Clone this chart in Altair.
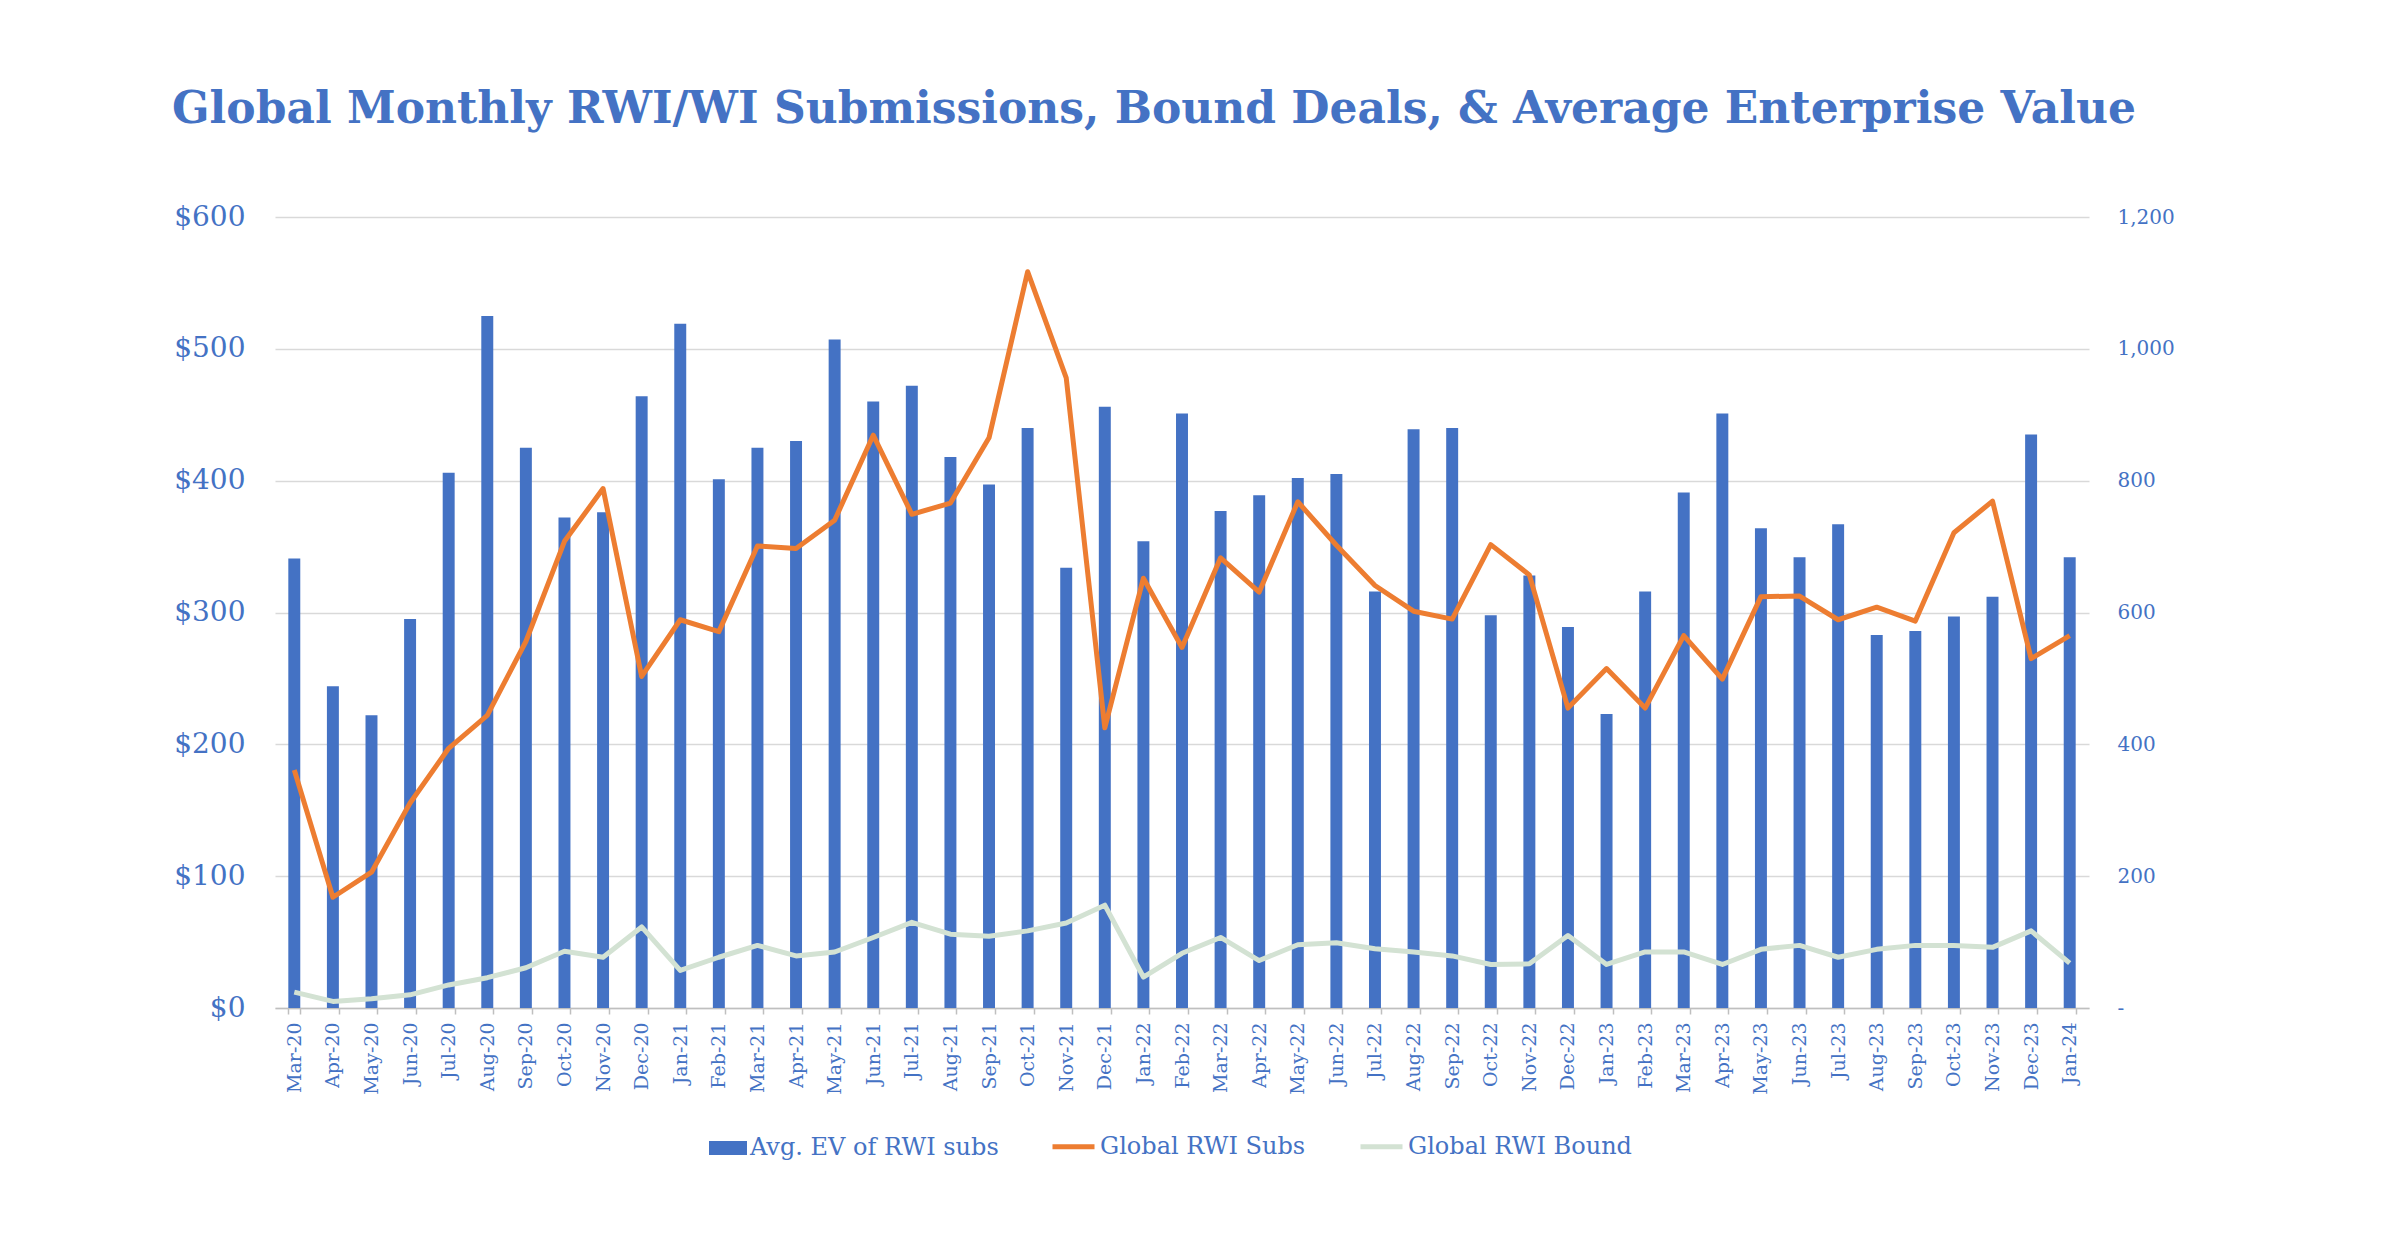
import altair as alt
import pandas as pd

months = ["Mar-20", "Apr-20", "May-20", "Jun-20", "Jul-20", "Aug-20", "Sep-20", "Oct-20", "Nov-20", "Dec-20",
          "Jan-21", "Feb-21", "Mar-21", "Apr-21", "May-21", "Jun-21", "Jul-21", "Aug-21", "Sep-21", "Oct-21",
          "Nov-21", "Dec-21", "Jan-22", "Feb-22", "Mar-22", "Apr-22", "May-22", "Jun-22", "Jul-22", "Aug-22",
          "Sep-22", "Oct-22", "Nov-22", "Dec-22", "Jan-23", "Feb-23", "Mar-23", "Apr-23", "May-23", "Jun-23",
          "Jul-23", "Aug-23", "Sep-23", "Oct-23", "Nov-23", "Dec-23", "Jan-24"]

avg_ev = [341, 244, 222, 295, 406, 525, 425, 372, 376, 464, 519, 401,
          425, 430, 507, 460, 472, 418, 397, 440, 334, 456, 354, 451,
          377, 389, 402, 405, 316, 439, 440, 298, 328, 289, 223, 316, 391,
          451, 364, 342, 367, 283, 286, 297, 312, 435, 342]

global_subs = [361, 168, 206, 311, 394, 444, 556, 708, 788, 503, 589, 571,
               701, 697, 740, 869, 749, 766, 865, 1117, 956, 425, 652, 547,
               683, 631, 768, 702, 641, 602, 590, 703, 657, 455, 515, 455, 565,
               499, 624, 625, 589, 608, 587, 721, 769, 530, 565]

global_bound = [24, 10, 14, 20, 35, 46, 61, 86, 77, 123, 57, 77,
                95, 79, 85, 107, 130, 112, 109, 117, 129, 156, 47, 83,
                107, 72, 96, 99, 90, 85, 79, 66, 67, 110, 66, 85, 85,
                66, 89, 95, 77, 89, 95, 95, 92, 117, 68]

series_names = ["Avg. EV of RWI subs", "Global RWI Subs", "Global RWI Bound"]
left_ticks = [0, 100, 200, 300, 400, 500, 600]
right_ticks = [0, 200, 400, 600, 800, 1000, 1200]

TEXT = "#4472C4"
FONT = "DejaVu Serif"
BLUE = "#4472C4"
ORANGE = "#ED7D31"
GREEN = "#D3E2D3"

bar_df = pd.DataFrame({"month": months, "ev": avg_ev, "series": series_names[0]})
line_df = pd.DataFrame({
    "month": months + months,
    "count": global_subs + global_bound,
    "series": [series_names[1]] * len(months) + [series_names[2]] * len(months),
})

x_enc = alt.X(
    "month:N", sort=months, title=None,
    scale=alt.Scale(paddingInner=0.69, paddingOuter=0.345),
    axis=alt.Axis(labelAngle=-90, labelFont=FONT, labelFontSize=19, labelColor=TEXT,
                  labelPadding=8, tickBand="extent", ticks=True, tickSize=6,
                  tickColor="#BFBFBF", tickWidth=1.5, domainColor="#BFBFBF",
                  domainWidth=1.5, grid=False),
)

bars = alt.Chart(bar_df).mark_bar().encode(
    x=x_enc,
    y=alt.Y("ev:Q", scale=alt.Scale(domain=[0, 600]),
            axis=alt.Axis(orient="left", values=left_ticks, labelExpr="'$' + datum.value",
                          grid=True, gridColor="#D9D9D9", gridWidth=1.5, domain=False,
                          ticks=False, labelFont=FONT, labelFontSize=28, labelColor=TEXT,
                          labelPadding=30, title=None)),
    color=alt.Color("series:N",
                    scale=alt.Scale(domain=[series_names[0]], range=[BLUE]),
                    legend=alt.Legend(orient="none", legendX=434, legendY=912, title=None,
                                      symbolType="M-1,-0.37H1V0.37H-1Z", symbolSize=1444,
                                      symbolStrokeWidth=0, labelFont=FONT, labelFontSize=24,
                                      labelColor=TEXT, labelOffset=3, labelLimit=0, padding=0)),
)

lines = alt.Chart(line_df).mark_line(strokeWidth=5, strokeJoin="round").encode(
    x=x_enc,
    y=alt.Y("count:Q", scale=alt.Scale(domain=[0, 1200]),
            axis=alt.Axis(orient="right", values=right_ticks,
                          labelExpr="datum.value == 0 ? '-' : format(datum.value, ',')",
                          grid=False, domain=False, ticks=False, labelFont=FONT,
                          labelFontSize=20, labelColor=TEXT, labelPadding=28, title=None)),
    color=alt.Color("series:N",
                    scale=alt.Scale(domain=series_names[1:], range=[ORANGE, GREEN]),
                    legend=alt.Legend(orient="none", legendX=775, legendY=906, title=None,
                                      direction="horizontal", symbolType="stroke",
                                      symbolSize=1764, symbolStrokeWidth=5, columnPadding=44,
                                      labelFont=FONT, labelFontSize=24, labelColor=TEXT,
                                      labelOffset=3, labelLimit=0, padding=0)),
)

chart = alt.layer(bars, lines).resolve_scale(y="independent", color="independent").properties(
    width=1814,
    height=791,
    background="white",
    padding={"left": 267, "top": 209, "right": 290, "bottom": 230},
    autosize=alt.AutoSizeParams(type="none"),
    title=alt.TitleParams(
        "Global Monthly RWI/WI Submissions, Bound Deals, & Average Enterprise Value",
        font=FONT, fontSize=44, fontWeight="bold", color=TEXT, anchor="start",
        frame="group", dx=-103, offset=36, baseline="alphabetic",
    ),
).configure_view(stroke=None)

chart.save("out.html", embed_options={"renderer": "svg", "actions": False})
